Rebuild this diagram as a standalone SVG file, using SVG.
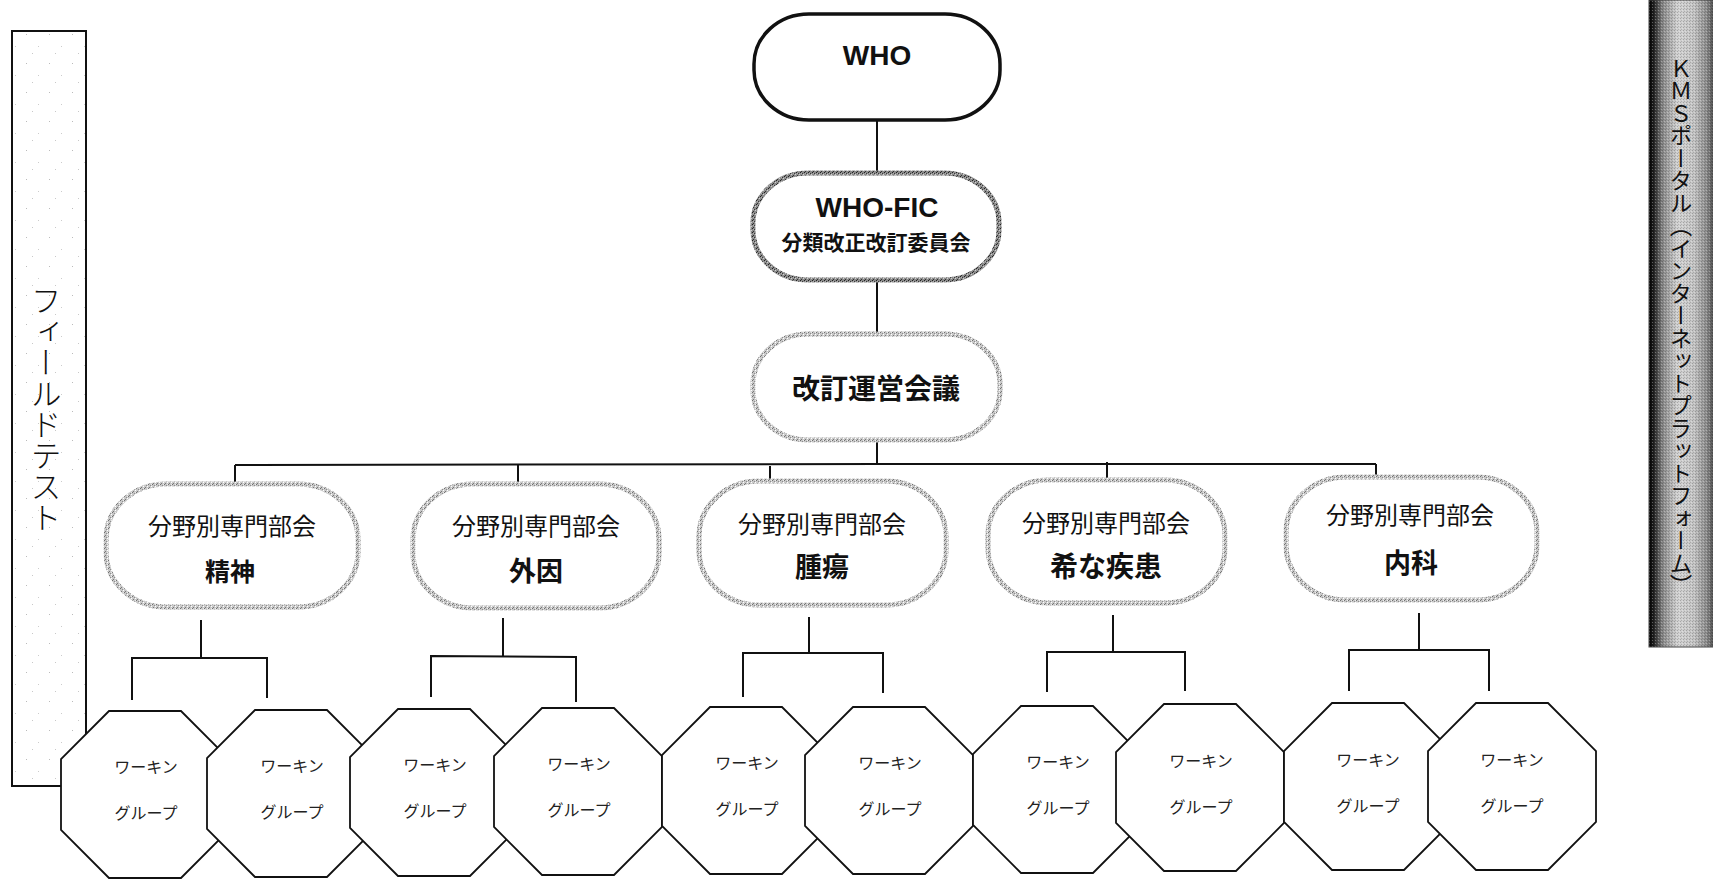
<svg xmlns="http://www.w3.org/2000/svg" width="1713" height="879" viewBox="0 0 1713 879">
  <style>
    .jp { font-family: "Noto Sans CJK JP", "Liberation Sans", sans-serif; fill: #111; }
    .en { font-family: "Liberation Sans", Arial, sans-serif; font-weight: bold; fill: #111; }
    .line { stroke: #111; stroke-width: 2; fill: none; }
    .cm { fill: #fff; stroke: url(#stipLight); stroke-width: 5; }
    .oct { fill: #fff; stroke: #111; stroke-width: 1.8; }
    .wg { font-family: "Noto Sans CJK JP", "Liberation Sans", sans-serif; font-size: 16px; fill: #222; text-anchor: middle; }
    .c1 { font-size: 24px; text-anchor: middle; }
    .c2 { font-size: 27px; text-anchor: middle; font-weight: bold; }
  </style>
  <defs>
    <pattern id="stipLight" width="4" height="4" patternUnits="userSpaceOnUse">
      <rect width="4" height="4" fill="#c8c8c8"/>
      <rect x="0" y="0" width="1" height="1" fill="#707070"/>
      <rect x="2" y="1" width="1" height="1" fill="#8e8e8e"/>
      <rect x="1" y="3" width="1" height="1" fill="#7a7a7a"/>
      <rect x="3" y="2" width="1" height="1" fill="#fff"/>
      <rect x="3" y="0" width="1" height="1" fill="#ececec"/>
    </pattern>
    <pattern id="stipDark" width="4" height="4" patternUnits="userSpaceOnUse">
      <rect width="4" height="4" fill="#8a8a8a"/>
      <rect x="0" y="0" width="1" height="1" fill="#222"/>
      <rect x="2" y="1" width="1" height="1" fill="#3a3a3a"/>
      <rect x="1" y="3" width="1" height="1" fill="#333"/>
      <rect x="3" y="2" width="1" height="1" fill="#d0d0d0"/>
      <rect x="1" y="1" width="1" height="1" fill="#b0b0b0"/>
    </pattern>
    <pattern id="faint" width="23" height="29" patternUnits="userSpaceOnUse">
      <rect width="23" height="29" fill="#fff"/>
      <rect x="3" y="5" width="1" height="1" fill="#bbb"/>
      <rect x="15" y="17" width="1" height="1" fill="#ccc"/>
      <rect x="9" y="24" width="1" height="1" fill="#c8c8c8"/>
    </pattern>
    <linearGradient id="barGrad" x1="0" y1="0" x2="1" y2="0">
      <stop offset="0" stop-color="#000"/>
      <stop offset="0.07" stop-color="#1e1e1e"/>
      <stop offset="0.22" stop-color="#8a8a8a"/>
      <stop offset="0.45" stop-color="#d2d2d2"/>
      <stop offset="0.7" stop-color="#c4c4c4"/>
      <stop offset="0.9" stop-color="#8c8c8c"/>
      <stop offset="1" stop-color="#555"/>
    </linearGradient>
    <pattern id="barNoise" width="3" height="3" patternUnits="userSpaceOnUse">
      <rect x="0" y="0" width="1" height="1" fill="#000" fill-opacity="0.2"/>
      <rect x="2" y="1" width="1" height="1" fill="#fff" fill-opacity="0.3"/>
      <rect x="1" y="2" width="1" height="1" fill="#000" fill-opacity="0.15"/>
    </pattern>
  </defs>

  <rect width="1713" height="879" fill="#fff"/>

  <!-- Left side bar -->
  <g id="field-test">
    <rect x="12" y="31" width="74" height="755" fill="url(#faint)" stroke="#111" stroke-width="2"/>
    <text class="jp" x="46" y="409" font-size="31" writing-mode="vertical-rl" text-anchor="middle" font-weight="300">フィールドテスト</text>
  </g>

  <!-- Right side bar -->
  <g id="kms-portal">
    <rect x="1649" y="0" width="64" height="647" fill="url(#barGrad)"/>
    <rect x="1649" y="0" width="64" height="647" fill="url(#barNoise)"/>
    <rect x="1649" y="0" width="64" height="647" fill="none" stroke="#444" stroke-width="1"/>
    <text class="jp" x="1681" y="327" font-size="22.5" writing-mode="vertical-rl" text-anchor="middle">ＫＭＳポータル（インターネットプラットフォーム）</text>
  </g>

  <!-- Connectors -->
  <g id="connectors" class="line">
    <line x1="877" y1="120" x2="877" y2="172"/>
    <line x1="877" y1="280" x2="877" y2="333"/>
    <line x1="877" y1="440" x2="877" y2="465"/>
    <polyline points="235,465 877,464 1376,464"/>
    <line x1="235" y1="465" x2="235" y2="484"/>
    <line x1="518" y1="464" x2="518" y2="498"/>
    <line x1="770" y1="466" x2="770" y2="492"/>
    <line x1="1107" y1="462" x2="1107" y2="493"/>
    <line x1="1376" y1="464" x2="1376" y2="488"/>

    <line x1="201" y1="620" x2="201" y2="658"/>
    <polyline points="132,700 132,658 267,658 267,698"/>
    <line x1="503" y1="618" x2="503" y2="656"/>
    <polyline points="431,697 431,656 576,657 576,702"/>
    <line x1="809" y1="617" x2="809" y2="653"/>
    <polyline points="743,697 743,653 883,653 883,693"/>
    <line x1="1113" y1="615" x2="1113" y2="652"/>
    <polyline points="1047,692 1047,652 1185,652 1185,691"/>
    <line x1="1419" y1="613" x2="1419" y2="650"/>
    <polyline points="1349,691 1349,650 1489,650 1489,691"/>
  </g>

  <!-- Top nodes -->
  <g id="who">
    <rect x="754" y="14" width="246" height="106" rx="55" ry="50" fill="#fff" stroke="#111" stroke-width="3.5"/>
    <text class="en" x="877" y="65" font-size="28" text-anchor="middle">WHO</text>
  </g>
  <g id="who-fic">
    <rect x="753" y="173" width="246" height="107" rx="55" ry="50" fill="#fff" stroke="url(#stipDark)" stroke-width="5"/>
    <text class="en" x="877" y="217" font-size="28" text-anchor="middle">WHO-FIC</text>
    <text class="jp" x="876" y="250" font-size="21" font-weight="bold" text-anchor="middle">分類改正改訂委員会</text>
  </g>
  <g id="steering">
    <rect x="753" y="334" width="247" height="106" rx="55" ry="50" fill="#fff" stroke="url(#stipLight)" stroke-width="5"/>
    <text class="jp" x="876" y="399" font-size="28" font-weight="bold" text-anchor="middle">改訂運営会議</text>
  </g>

  <!-- Committees -->
  <g id="committee-1">
    <rect class="cm" x="106" y="484" width="252" height="123" rx="60" ry="55"/>
    <text class="jp c1" x="232" y="535">分野別専門部会</text>
    <text class="jp" x="230" y="581" font-size="25" font-weight="bold" text-anchor="middle">精神</text>
  </g>
  <g id="committee-2">
    <rect class="cm" x="413" y="484" width="246" height="124" rx="60" ry="55"/>
    <text class="jp c1" x="536" y="535">分野別専門部会</text>
    <text class="jp c2" x="536" y="581">外因</text>
  </g>
  <g id="committee-3">
    <rect class="cm" x="699" y="481" width="247" height="124" rx="60" ry="55"/>
    <text class="jp c1" x="822" y="533">分野別専門部会</text>
    <text class="jp c2" x="822" y="577">腫瘍</text>
  </g>
  <g id="committee-4">
    <rect class="cm" x="988" y="480" width="237" height="123" rx="60" ry="55"/>
    <text class="jp c1" x="1106" y="532">分野別専門部会</text>
    <text class="jp" x="1106" y="577" font-size="28" font-weight="bold" text-anchor="middle">希な疾患</text>
  </g>
  <g id="committee-5">
    <rect class="cm" x="1286" y="477" width="251" height="123" rx="60" ry="55"/>
    <text class="jp c1" x="1410" y="524">分野別専門部会</text>
    <text class="jp c2" x="1411" y="573">内科</text>
  </g>

  <!-- Working groups -->
  <g id="wg-1">
    <polygon class="oct" points="109,711 181,711 229,759 229,830 181,878 109,878 61,830 61,759"/>
    <text class="wg" x="146" y="773">ワーキン</text>
    <text class="wg" x="146" y="819">グループ</text>
  </g>
  <g id="wg-2">
    <polygon class="oct" points="255,710 327,710 375,758 375,829 327,877 255,877 207,829 207,758"/>
    <text class="wg" x="292" y="772">ワーキン</text>
    <text class="wg" x="292" y="818">グループ</text>
  </g>
  <g id="wg-3">
    <polygon class="oct" points="398,709 470,709 518,757 518,828 470,876 398,876 350,828 350,757"/>
    <text class="wg" x="435" y="771">ワーキン</text>
    <text class="wg" x="435" y="817">グループ</text>
  </g>
  <g id="wg-4">
    <polygon class="oct" points="542,708 614,708 662,756 662,827 614,875 542,875 494,827 494,756"/>
    <text class="wg" x="579" y="770">ワーキン</text>
    <text class="wg" x="579" y="816">グループ</text>
  </g>
  <g id="wg-5">
    <polygon class="oct" points="710,707 782,707 830,755 830,826 782,874 710,874 662,826 662,755"/>
    <text class="wg" x="747" y="769">ワーキン</text>
    <text class="wg" x="747" y="815">グループ</text>
  </g>
  <g id="wg-6">
    <polygon class="oct" points="853,707 925,707 973,755 973,826 925,874 853,874 805,826 805,755"/>
    <text class="wg" x="890" y="769">ワーキン</text>
    <text class="wg" x="890" y="815">グループ</text>
  </g>
  <g id="wg-7">
    <polygon class="oct" points="1021,706 1093,706 1141,754 1141,825 1093,873 1021,873 973,825 973,754"/>
    <text class="wg" x="1058" y="768">ワーキン</text>
    <text class="wg" x="1058" y="814">グループ</text>
  </g>
  <g id="wg-8">
    <polygon class="oct" points="1164,704 1236,704 1284,752 1284,823 1236,871 1164,871 1116,823 1116,752"/>
    <text class="wg" x="1201" y="767">ワーキン</text>
    <text class="wg" x="1201" y="813">グループ</text>
  </g>
  <g id="wg-9">
    <polygon class="oct" points="1332,703 1404,703 1452,751 1452,822 1404,870 1332,870 1284,822 1284,751"/>
    <text class="wg" x="1368" y="766">ワーキン</text>
    <text class="wg" x="1368" y="812">グループ</text>
  </g>
  <g id="wg-10">
    <polygon class="oct" points="1476,703 1548,703 1596,751 1596,822 1548,870 1476,870 1428,822 1428,751"/>
    <text class="wg" x="1512" y="766">ワーキン</text>
    <text class="wg" x="1512" y="812">グループ</text>
  </g>
</svg>
